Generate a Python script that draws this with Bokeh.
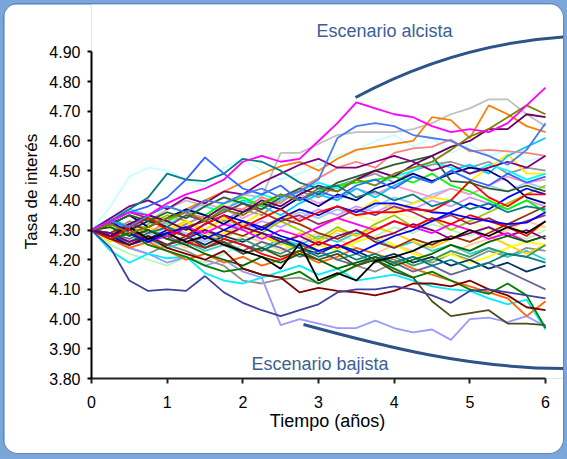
from bokeh.plotting import figure
from bokeh.models import Range1d, FixedTicker, NumeralTickFormatter, Label
from bokeh.embed import file_html
from bokeh.resources import INLINE

# ---------------- data ----------------
t = [0.0, 0.25, 0.5, 0.75, 1.0, 1.25, 1.5, 1.75, 2.0, 2.25, 2.5, 2.75, 3.0,
     3.25, 3.5, 3.75, 4.0, 4.25, 4.5, 4.75, 5.0, 5.25, 5.5, 5.75, 6.0]

x_ticks = [0, 1, 2, 3, 4, 5, 6]
y_ticks = [3.80, 3.90, 4.00, 4.10, 4.20, 4.30, 4.40, 4.50, 4.60, 4.70, 4.80, 4.90]

magenta = [4.30, 4.33, 4.36, 4.35, 4.39, 4.42, 4.44, 4.47, 4.53, 4.55, 4.53, 4.54, 4.60, 4.66, 4.73, 4.71, 4.69, 4.68, 4.65, 4.63, 4.64, 4.63, 4.66, 4.72, 4.78]
silver = [4.30, 4.32, 4.35, 4.33, 4.37, 4.40, 4.38, 4.36, 4.42, 4.41, 4.56, 4.56, 4.59, 4.62, 4.63, 4.63, 4.63, 4.64, 4.66, 4.69, 4.71, 4.74, 4.74, 4.69, 4.65]
orange = [4.30, 4.28, 4.31, 4.34, 4.33, 4.37, 4.40, 4.43, 4.46, 4.49, 4.515, 4.53, 4.50, 4.54, 4.57, 4.58, 4.59, 4.60, 4.68, 4.67, 4.61, 4.72, 4.69, 4.65, 4.63]
cornflower = [4.30, 4.33, 4.31, 4.35, 4.38, 4.36, 4.40, 4.39, 4.42, 4.44, 4.41, 4.43, 4.47, 4.61, 4.65, 4.66, 4.65, 4.62, 4.61, 4.60, 4.57, 4.55, 4.52, 4.57, 4.66]
royal = [4.30, 4.33, 4.36, 4.38, 4.41, 4.47, 4.545, 4.49, 4.44, 4.42, 4.45, 4.40, 4.43, 4.41, 4.45, 4.47, 4.44, 4.48, 4.46, 4.50, 4.47, 4.45, 4.49, 4.46, 4.48]
teal = [4.30, 4.33, 4.37, 4.41, 4.49, 4.47, 4.465, 4.49, 4.54, 4.53, 4.50, 4.46, 4.44, 4.45, 4.41, 4.43, 4.40, 4.42, 4.38, 4.40, 4.37, 4.39, 4.36, 4.38, 4.37]
lightcyan = [4.30, 4.38, 4.48, 4.51, 4.50, 4.47, 4.45, 4.51, 4.54, 4.50, 4.47, 4.49, 4.52, 4.55, 4.57, 4.60, 4.62, 4.58, 4.61, 4.56, 4.59, 4.55, 4.57, 4.53, 4.55]
slateblue = [4.30, 4.24, 4.13, 4.095, 4.10, 4.095, 4.145, 4.09, 4.055, 4.03, 4.01, 4.03, 4.05, 4.09, 4.10, 4.10, 4.11, 4.10, 4.08, 4.055, 4.095, 4.10, 4.09, 4.08, 4.07]
lavender = [4.30, 4.27, 4.24, 4.22, 4.19, 4.21, 4.18, 4.20, 4.16, 4.14, 3.98, 4.00, 3.985, 3.97, 3.97, 3.995, 3.97, 3.955, 3.965, 3.93, 4.00, 4.005, 3.99, 4.01, 3.975]
darkolive = [4.30, 4.28, 4.31, 4.27, 4.25, 4.28, 4.24, 4.26, 4.22, 4.24, 4.21, 4.23, 4.20, 4.22, 4.18, 4.20, 4.16, 4.14, 4.06, 4.01, 4.02, 4.03, 3.985, 3.985, 3.98]
cyan = [4.30, 4.23, 4.19, 4.22, 4.205, 4.21, 4.155, 4.13, 4.12, 4.14, 4.16, 4.18, 4.15, 4.17, 4.13, 4.14, 4.15, 4.13, 4.11, 4.10, 4.095, 4.07, 4.05, 4.065, 3.965]
darkred = [4.30, 4.27, 4.25, 4.28, 4.24, 4.22, 4.20, 4.23, 4.17, 4.15, 4.14, 4.09, 4.105, 4.095, 4.09, 4.08, 4.095, 4.12, 4.12, 4.11, 4.13, 4.10, 4.08, 4.04, 4.03]
green = [4.30, 4.27, 4.29, 4.25, 4.23, 4.21, 4.18, 4.16, 4.17, 4.15, 4.14, 4.16, 4.12, 4.15, 4.18, 4.20, 4.17, 4.14, 4.16, 4.13, 4.10, 4.085, 4.12, 4.08, 3.97]
olive = [4.30, 4.32, 4.29, 4.31, 4.34, 4.36, 4.33, 4.37, 4.35, 4.39, 4.42, 4.40, 4.44, 4.43, 4.47, 4.45, 4.49, 4.51, 4.53, 4.57, 4.615, 4.64, 4.68, 4.72, 4.69]
darkpurple = [4.30, 4.28, 4.32, 4.35, 4.33, 4.30, 4.34, 4.38, 4.36, 4.40, 4.38, 4.42, 4.45, 4.43, 4.47, 4.50, 4.48, 4.52, 4.55, 4.58, 4.60, 4.64, 4.64, 4.69, 4.68]
purple = [4.30, 4.34, 4.38, 4.40, 4.37, 4.41, 4.39, 4.43, 4.42, 4.46, 4.49, 4.52, 4.54, 4.51, 4.51, 4.53, 4.55, 4.53, 4.50, 4.52, 4.49, 4.51, 4.53, 4.51, 4.55]
salmon = [4.30, 4.27, 4.31, 4.29, 4.33, 4.36, 4.34, 4.38, 4.37, 4.41, 4.39, 4.44, 4.475, 4.51, 4.53, 4.51, 4.56, 4.575, 4.58, 4.605, 4.565, 4.57, 4.565, 4.56, 4.55]
gray = [4.30, 4.29, 4.33, 4.30, 4.28, 4.32, 4.35, 4.33, 4.37, 4.35, 4.40, 4.43, 4.41, 4.45, 4.47, 4.49, 4.46, 4.50, 4.52, 4.53, 4.51, 4.53, 4.49, 4.51, 4.50]
darkgreen = [4.30, 4.32, 4.35, 4.33, 4.36, 4.34, 4.38, 4.41, 4.39, 4.37, 4.41, 4.44, 4.42, 4.46, 4.48, 4.50, 4.52, 4.535, 4.55, 4.465, 4.46, 4.44, 4.43, 4.45, 4.43]
lime = [4.30, 4.33, 4.31, 4.35, 4.33, 4.37, 4.35, 4.39, 4.41, 4.38, 4.42, 4.40, 4.43, 4.45, 4.46, 4.47, 4.48, 4.46, 4.49, 4.45, 4.43, 4.40, 4.37, 4.40, 4.36]
yellow = [4.30, 4.26, 4.29, 4.31, 4.28, 4.33, 4.30, 4.34, 4.32, 4.36, 4.33, 4.37, 4.35, 4.38, 4.36, 4.40, 4.37, 4.39, 4.41, 4.40, 4.465, 4.51, 4.555, 4.49, 4.49]
red = [4.30, 4.27, 4.31, 4.34, 4.30, 4.28, 4.32, 4.35, 4.31, 4.34, 4.37, 4.33, 4.36, 4.38, 4.35, 4.36, 4.36, 4.37, 4.365, 4.40, 4.465, 4.41, 4.38, 4.42, 4.42]
blue = [4.30, 4.33, 4.29, 4.26, 4.29, 4.31, 4.27, 4.30, 4.33, 4.30, 4.34, 4.37, 4.35, 4.38, 4.36, 4.39, 4.39, 4.375, 4.36, 4.355, 4.34, 4.33, 4.32, 4.325, 4.36]
navy = [4.30, 4.32, 4.35, 4.31, 4.34, 4.37, 4.35, 4.32, 4.36, 4.39, 4.37, 4.41, 4.38, 4.42, 4.40, 4.44, 4.46, 4.49, 4.465, 4.49, 4.51, 4.50, 4.465, 4.41, 4.39]
black = [4.30, 4.28, 4.31, 4.27, 4.29, 4.26, 4.28, 4.25, 4.23, 4.21, 4.17, 4.255, 4.13, 4.155, 4.13, 4.195, 4.21, 4.23, 4.26, 4.27, 4.30, 4.28, 4.31, 4.29, 4.33]
sky = [4.30, 4.34, 4.31, 4.35, 4.38, 4.36, 4.33, 4.37, 4.40, 4.38, 4.35, 4.39, 4.42, 4.40, 4.44, 4.41, 4.45, 4.48, 4.46, 4.50, 4.52, 4.49, 4.55, 4.58, 4.61]
turquoise = [4.30, 4.28, 4.25, 4.27, 4.24, 4.26, 4.23, 4.25, 4.22, 4.24, 4.27, 4.25, 4.28, 4.26, 4.29, 4.27, 4.24, 4.26, 4.23, 4.25, 4.22, 4.24, 4.21, 4.23, 4.20]
yellowgreen = [4.30, 4.31, 4.28, 4.32, 4.35, 4.33, 4.30, 4.34, 4.31, 4.29, 4.33, 4.30, 4.27, 4.31, 4.28, 4.32, 4.35, 4.31, 4.34, 4.30, 4.33, 4.36, 4.39, 4.42, 4.45]
gold = [4.30, 4.32, 4.29, 4.26, 4.30, 4.33, 4.29, 4.27, 4.31, 4.28, 4.25, 4.29, 4.26, 4.30, 4.28, 4.31, 4.29, 4.26, 4.24, 4.27, 4.30, 4.28, 4.25, 4.22, 4.25]
darkorange = [4.30, 4.27, 4.24, 4.26, 4.23, 4.20, 4.22, 4.19, 4.21, 4.18, 4.20, 4.22, 4.19, 4.21, 4.24, 4.22, 4.20, 4.17, 4.15, 4.13, 4.11, 4.09, 4.07, 4.01, 4.06]
brown = [4.30, 4.29, 4.32, 4.30, 4.27, 4.31, 4.33, 4.30, 4.28, 4.31, 4.34, 4.32, 4.29, 4.27, 4.30, 4.26, 4.24, 4.27, 4.25, 4.28, 4.26, 4.29, 4.32, 4.35, 4.38]
plum = [4.30, 4.33, 4.36, 4.34, 4.31, 4.35, 4.33, 4.36, 4.39, 4.36, 4.33, 4.35, 4.32, 4.34, 4.37, 4.35, 4.38, 4.36, 4.33, 4.35, 4.32, 4.34, 4.31, 4.33, 4.35]
darkteal = [4.30, 4.28, 4.30, 4.33, 4.31, 4.28, 4.25, 4.28, 4.26, 4.29, 4.27, 4.24, 4.22, 4.25, 4.23, 4.20, 4.22, 4.19, 4.21, 4.18, 4.20, 4.17, 4.19, 4.16, 4.18]
seagreen = [4.30, 4.27, 4.29, 4.26, 4.29, 4.31, 4.28, 4.25, 4.27, 4.24, 4.22, 4.25, 4.23, 4.20, 4.22, 4.19, 4.21, 4.18, 4.20, 4.23, 4.21, 4.24, 4.22, 4.21, 4.25]
lilac = [4.30, 4.32, 4.29, 4.27, 4.30, 4.32, 4.35, 4.33, 4.30, 4.33, 4.31, 4.34, 4.37, 4.35, 4.38, 4.36, 4.39, 4.37, 4.40, 4.38, 4.41, 4.39, 4.37, 4.40, 4.38]
lightyellow = [4.30, 4.31, 4.33, 4.36, 4.34, 4.37, 4.35, 4.38, 4.40, 4.37, 4.34, 4.37, 4.35, 4.32, 4.35, 4.33, 4.36, 4.34, 4.37, 4.35, 4.33, 4.30, 4.32, 4.29, 4.31]
lightgreen = [4.30, 4.25, 4.22, 4.20, 4.18, 4.21, 4.19, 4.22, 4.25, 4.23, 4.26, 4.24, 4.27, 4.29, 4.26, 4.28, 4.31, 4.29, 4.32, 4.30, 4.28, 4.31, 4.29, 4.27, 4.30]
paleblue = [4.30, 4.33, 4.30, 4.28, 4.31, 4.29, 4.26, 4.29, 4.32, 4.30, 4.33, 4.36, 4.34, 4.37, 4.35, 4.38, 4.41, 4.39, 4.42, 4.44, 4.42, 4.45, 4.43, 4.46, 4.44]
rose = [4.30, 4.29, 4.32, 4.35, 4.33, 4.36, 4.39, 4.37, 4.34, 4.37, 4.40, 4.42, 4.39, 4.41, 4.44, 4.42, 4.45, 4.43, 4.41, 4.44, 4.42, 4.45, 4.48, 4.46, 4.47]
tan = [4.30, 4.28, 4.26, 4.29, 4.27, 4.24, 4.27, 4.25, 4.28, 4.26, 4.23, 4.26, 4.29, 4.27, 4.24, 4.22, 4.25, 4.23, 4.20, 4.22, 4.25, 4.27, 4.30, 4.33, 4.31]
midgray = [4.30, 4.27, 4.24, 4.22, 4.25, 4.23, 4.20, 4.18, 4.13, 4.12, 4.135, 4.14, 4.12, 4.15, 4.18, 4.16, 4.19, 4.21, 4.19, 4.22, 4.20, 4.23, 4.21, 4.24, 4.23]
bluegray = [4.30, 4.29, 4.27, 4.30, 4.28, 4.25, 4.28, 4.26, 4.23, 4.26, 4.24, 4.21, 4.23, 4.20, 4.18, 4.21, 4.19, 4.16, 4.18, 4.15, 4.17, 4.19, 4.16, 4.13, 4.10]
red2 = [4.30, 4.32, 4.30, 4.27, 4.29, 4.26, 4.24, 4.27, 4.25, 4.22, 4.20, 4.23, 4.26, 4.24, 4.27, 4.30, 4.33, 4.31, 4.34, 4.32, 4.35, 4.33, 4.31, 4.28, 4.33]
blue2 = [4.30, 4.28, 4.25, 4.27, 4.30, 4.28, 4.32, 4.35, 4.33, 4.31, 4.28, 4.26, 4.23, 4.25, 4.22, 4.25, 4.28, 4.30, 4.33, 4.36, 4.39, 4.37, 4.41, 4.44, 4.42]
darkgreen2 = [4.30, 4.31, 4.28, 4.30, 4.27, 4.25, 4.22, 4.20, 4.18, 4.21, 4.19, 4.22, 4.20, 4.17, 4.19, 4.21, 4.18, 4.20, 4.22, 4.25, 4.23, 4.26, 4.28, 4.26, 4.28]
cyan2 = [4.30, 4.34, 4.37, 4.35, 4.32, 4.35, 4.38, 4.36, 4.39, 4.42, 4.40, 4.43, 4.46, 4.44, 4.47, 4.45, 4.48, 4.50, 4.53, 4.51, 4.49, 4.52, 4.50, 4.47, 4.49]
magenta2 = [4.30, 4.27, 4.29, 4.26, 4.28, 4.31, 4.29, 4.32, 4.30, 4.27, 4.30, 4.28, 4.31, 4.34, 4.32, 4.30, 4.33, 4.31, 4.29, 4.32, 4.30, 4.27, 4.29, 4.26, 4.28]
yellow2 = [4.30, 4.28, 4.31, 4.29, 4.32, 4.30, 4.27, 4.29, 4.31, 4.28, 4.26, 4.22, 4.25, 4.23, 4.26, 4.28, 4.25, 4.22, 4.20, 4.22, 4.19, 4.21, 4.24, 4.26, 4.25]
teal2 = [4.30, 4.28, 4.26, 4.29, 4.31, 4.28, 4.30, 4.27, 4.25, 4.23, 4.26, 4.24, 4.21, 4.23, 4.20, 4.22, 4.19, 4.21, 4.18, 4.20, 4.17, 4.19, 4.22, 4.21, 4.19]
purple2 = [4.30, 4.29, 4.26, 4.28, 4.25, 4.27, 4.30, 4.28, 4.31, 4.29, 4.26, 4.28, 4.25, 4.28, 4.30, 4.27, 4.29, 4.32, 4.30, 4.27, 4.29, 4.31, 4.28, 4.30, 4.27]

series = [
    (lightcyan, "#c8ffff"), (lightyellow, "#ffff99"), (lightgreen, "#b8f5b8"),
    (tan, "#ffcc99"), (paleblue, "#99ccff"), (rose, "#ff99cc"), (lilac, "#cc99ff"),
    (silver, "#c0c0c0"), (gray, "#969696"), (midgray, "#909090"),
    (lavender, "#9999ff"), (turquoise, "#33cccc"), (yellowgreen, "#99cc00"),
    (gold, "#ffcc00"), (yellow2, "#ffff00"), (yellow, "#ffee00"),
    (sky, "#00ccff"), (cyan2, "#00ffff"), (cyan, "#00eeff"),
    (salmon, "#ff8080"), (darkorange, "#ff6600"), (orange, "#ff8000"),
    (plum, "#993366"), (brown, "#993300"), (darkteal, "#003366"),
    (seagreen, "#339966"), (bluegray, "#666699"), (teal2, "#008080"),
    (purple2, "#800080"), (magenta2, "#ff00ff"), (red2, "#ff0000"),
    (blue2, "#0000ff"), (darkgreen2, "#006600"), (lime, "#00ff00"),
    (green, "#008000"), (darkred, "#800000"), (darkolive, "#4d4d1a"),
    (slateblue, "#4040a0"), (black, "#000000"), (navy, "#000080"),
    (blue, "#0000ff"), (red, "#ff0000"), (darkgreen, "#2e5e2e"),
    (purple, "#800080"), (darkpurple, "#660066"), (olive, "#808000"),
    (teal, "#008080"), (royal, "#3366ff"), (cornflower, "#4a7cf0"),
    (magenta, "#ff00ff"),
]
for vals, _ in series:
    assert len(vals) == len(t)

# ---------------- layout ----------------
OFF = 4                    # panel offset inside the blue page
W, H = 559, 449
LEFT = 91 - OFF            # frame left edge (page x = 91)
BOTTOM = H - (378 - OFF)   # frame bottom (page y = 378)
frame_w = W - LEFT
frame_h = H - BOTTOM
px_x = 454 / 6.0           # pixels per year
px_y = 296.9               # pixels per unit of rate
x_end = frame_w / px_x
y_end = 3.8 + frame_h / px_y

def sx(px):  # page px -> data x
    return (px - 91) / px_x

def sy(py):  # page px -> data y
    return 3.8 + (378 - py) / px_y

FONT = "Liberation Sans"

p = figure(width=W, height=H, x_range=Range1d(0, x_end), y_range=Range1d(3.8, y_end),
           output_backend="svg", toolbar_location=None,
           min_border_left=LEFT, min_border_right=0, min_border_top=0,
           min_border_bottom=BOTTOM)
p.xgrid.visible = False
p.ygrid.visible = False
p.outline_line_color = None
p.background_fill_color = "white"
p.border_fill_color = "white"
p.styles = {"border-radius": "14px", "overflow": "hidden",
            "margin": f"{OFF}px 0 0 {OFF}px",
            "box-shadow": "0 0 0 1px #5f86bd"}

p.multi_line(xs=[t] * len(series), ys=[s for s, _ in series],
             line_color=[c for _, c in series], line_width=1.8)

# axes
xa = p.xaxis[0]
xa.bounds = (0, 6)
xa.ticker = FixedTicker(ticks=x_ticks)
xa.minor_tick_line_color = None
xa.major_tick_out = 5
xa.major_tick_in = 0
xa.major_tick_line_width = 2
xa.axis_line_width = 2
xa.axis_line_color = "#222222"
xa.major_tick_line_color = "#222222"
xa.major_label_standoff = 12
xa.major_label_text_font = FONT
xa.major_label_text_font_size = "16px"
xa.major_label_text_color = "black"
xa.axis_label = "Tiempo (años)"
xa.axis_label_text_font = FONT
xa.axis_label_text_font_size = "18px"
xa.axis_label_text_font_style = "normal"
xa.axis_label_text_color = "black"
xa.axis_label_standoff = 0

ya = p.yaxis[0]
ya.bounds = (3.8, 4.9)
ya.ticker = FixedTicker(ticks=y_ticks)
ya.formatter = NumeralTickFormatter(format="0.00")
ya.minor_tick_line_color = None
ya.major_tick_out = 4
ya.major_tick_in = 0
ya.major_tick_line_width = 2
ya.axis_line_width = 2
ya.axis_line_color = "black"
ya.major_tick_line_color = "black"
ya.major_label_standoff = 7
ya.major_label_text_font = FONT
ya.major_label_text_font_size = "16px"
ya.major_label_text_color = "black"
ya.axis_label = "Tasa de interés"
ya.axis_label_text_font = FONT
ya.axis_label_text_font_size = "17px"
ya.axis_label_text_font_style = "normal"
ya.axis_label_text_color = "black"
ya.axis_label_standoff = 5

# scenario annotations
ARC = "#2e5389"
p.bezier(x0=[sx(355)], y0=[sy(97)], x1=[sx(572)], y1=[sy(36)],
         cx0=[sx(420)], cy0=[sy(62)], cx1=[sx(490)], cy1=[sy(40)],
         line_color=ARC, line_width=3)
p.bezier(x0=[sx(303)], y0=[sy(324)], x1=[sx(572)], y1=[sy(368)],
         cx0=[sx(380)], cy0=[sy(345)], cx1=[sx(470)], cy1=[sy(369)],
         line_color=ARC, line_width=3)

TXT = "#3b5f95"
p.add_layout(Label(x=sx(316), y=sy(30), text="Escenario alcista",
                   text_font=FONT, text_font_size="18px", text_color=TXT,
                   text_baseline="middle", text_align="left"))
p.add_layout(Label(x=sx(251), y=sy(363), text="Escenario bajista",
                   text_font=FONT, text_font_size="18px", text_color=TXT,
                   text_baseline="middle", text_align="left"))

html = file_html(p, INLINE, title="Escenarios de tasa de interés")
html = html.replace("</head>", "<style>body{background:#7ba6d9;}</style></head>", 1)
open("out.html", "w").write(html)
